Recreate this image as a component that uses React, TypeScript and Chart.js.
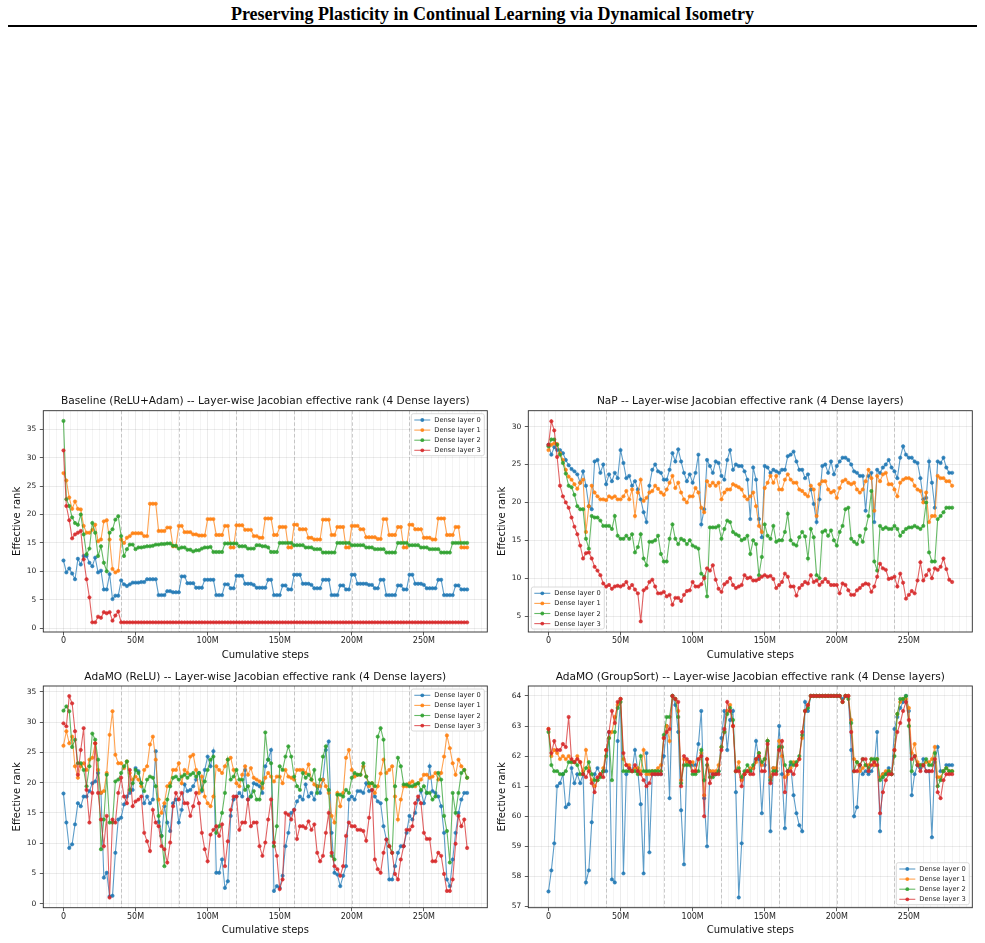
import React, { useEffect, useRef } from "react";
import { Chart, registerables } from "chart.js";

Chart.register(...registerables);

const FONT = '"DejaVu Sans", "Liberation Sans", sans-serif';

// Cumulative environment steps (millions) at which the Jacobian rank was logged.
const STEPS_M = [
  0, 2, 4, 6, 8, 10, 12, 14, 16, 18,
  20, 22, 24, 26, 28, 30, 32, 34, 36, 38,
  40, 42, 44, 46, 48, 50, 52, 54, 56, 58,
  60, 62, 64, 66, 68, 70, 72, 74, 76, 78,
  80, 82, 84, 86, 88, 90, 92, 94, 96, 98,
  100, 102, 104, 106, 108, 110, 112, 114, 116, 118,
  120, 122, 124, 126, 128, 130, 132, 134, 136, 138,
  140, 142, 144, 146, 148, 150, 152, 154, 156, 158,
  160, 162, 164, 166, 168, 170, 172, 174, 176, 178,
  180, 182, 184, 186, 188, 190, 192, 194, 196, 198,
  200, 202, 204, 206, 208, 210, 212, 214, 216, 218,
  220, 222, 224, 226, 228, 230, 232, 234, 236, 238,
  240, 242, 244, 246, 248, 250, 252, 254, 256, 258,
  260, 262, 264, 266, 268, 270, 272, 274, 276, 278,
  280,
];

const LAYER_LABELS = ["Dense layer 0", "Dense layer 1", "Dense layer 2", "Dense layer 3"];
const LAYER_COLORS = ["#1f77b4", "#ff7f0e", "#2ca02c", "#d62728"];
const TASK_SWITCHES_M = [40, 80, 120, 160, 200, 240];

// ---- Baseline (ReLU + Adam) ----
const BASE_L0 = [
  11.9, 9.8, 10.5, 9.6, 8.6, 12.2, 11.2, 12.7, 12.7, 11.5,
  10.9, 12.4, 9.8, 10.1, 6.8, 6.8, 9.5, 5.1, 5.7, 5.7,
  8.4, 7.7, 7.4, 7.7, 8.0, 8.0, 8.0, 8.1, 8.1, 8.6,
  8.6, 8.6, 8.6, 5.8, 5.8, 5.8, 6.5, 6.5, 6.3, 6.3,
  6.3, 9.1, 9.1, 7.9, 7.9, 7.9, 7.1, 7.1, 7.1, 8.5,
  8.5, 8.5, 8.5, 5.8, 5.8, 5.8, 7.7, 7.7, 7.0, 7.0,
  9.2, 9.2, 9.2, 7.8, 7.8, 7.8, 7.6, 7.1, 7.1, 7.1,
  7.1, 8.5, 8.5, 5.8, 5.8, 5.8, 7.5, 7.5, 6.8, 6.8,
  9.4, 9.4, 9.4, 7.8, 7.8, 7.8, 7.6, 7.0, 7.0, 7.0,
  8.5, 8.5, 8.5, 5.8, 5.8, 5.8, 7.5, 7.5, 6.8, 6.8,
  9.4, 9.4, 7.8, 7.8, 7.8, 7.8, 7.6, 7.6, 7.0, 7.0,
  8.5, 8.5, 5.8, 5.8, 5.8, 5.8, 7.5, 7.5, 6.8, 6.8,
  9.4, 9.4, 7.8, 7.8, 7.8, 7.6, 7.0, 7.0, 7.0, 7.0,
  8.5, 8.5, 5.8, 5.8, 5.8, 5.8, 7.5, 7.5, 6.8, 6.8,
  6.8,
];
const BASE_L1 = [
  27.3, 26.0, 23.0, 21.0, 22.3, 21.0, 20.9, 18.0, 16.8, 16.8,
  17.3, 18.2, 15.3, 15.6, 18.8, 19.0, 15.6, 10.4, 9.8, 10.1,
  15.6, 15.0, 15.9, 16.2, 16.7, 16.7, 16.7, 16.7, 16.2, 16.2,
  21.9, 21.9, 21.9, 17.1, 17.1, 17.1, 17.7, 17.7, 14.4, 14.4,
  18.0, 18.0, 16.9, 16.9, 16.9, 16.5, 16.5, 16.3, 16.3, 16.3,
  19.2, 19.2, 19.2, 16.4, 16.4, 16.4, 18.0, 18.0, 14.2, 14.2,
  18.1, 18.1, 18.1, 17.3, 17.3, 17.3, 16.2, 16.2, 15.9, 15.9,
  19.3, 19.3, 19.3, 16.4, 16.4, 17.8, 17.8, 17.8, 14.2, 14.2,
  18.2, 18.2, 17.4, 17.4, 17.4, 15.9, 15.9, 15.6, 15.6, 15.6,
  19.1, 19.1, 19.1, 16.4, 16.4, 17.8, 17.8, 17.8, 14.2, 14.2,
  18.0, 18.0, 18.0, 17.4, 17.4, 16.0, 16.0, 16.0, 16.0, 15.7,
  15.7, 19.2, 19.2, 16.4, 16.4, 16.4, 17.8, 17.8, 14.2, 14.2,
  18.2, 18.2, 17.4, 17.4, 17.4, 15.9, 15.9, 15.9, 15.6, 15.6,
  19.3, 19.3, 19.3, 16.4, 16.4, 16.4, 17.8, 17.8, 14.2, 14.2,
  14.2,
];
const BASE_L2 = [
  36.5, 22.7, 21.5, 19.5, 18.5, 18.2, 20.0, 16.5, 13.0, 14.0,
  18.5, 16.8, 12.7, 14.4, 11.5, 10.0, 16.8, 17.4, 19.1, 19.7,
  16.2, 12.7, 13.9, 14.7, 14.7, 13.9, 14.2, 14.2, 14.3, 14.4,
  14.4, 14.5, 14.7, 14.7, 14.8, 14.8, 14.9, 14.9, 14.5, 14.5,
  14.0, 14.2, 14.2, 13.8, 13.8, 13.5, 13.7, 13.7, 14.0, 14.2,
  14.2, 14.3, 13.4, 13.4, 13.4, 13.4, 14.9, 14.9, 14.9, 14.9,
  14.9, 14.4, 14.4, 14.4, 14.0, 14.0, 14.0, 14.6, 14.6, 14.4,
  14.4, 14.2, 13.4, 13.4, 13.4, 15.0, 15.0, 15.0, 15.0, 15.0,
  14.6, 14.6, 14.6, 14.6, 14.2, 14.2, 14.2, 13.9, 13.9, 13.9,
  13.3, 13.3, 13.3, 13.3, 13.3, 15.0, 15.0, 15.0, 15.0, 15.0,
  14.6, 14.6, 14.6, 14.6, 14.6, 14.2, 14.2, 14.2, 13.9, 13.9,
  13.9, 13.9, 13.3, 13.3, 13.3, 13.3, 15.0, 15.0, 15.0, 15.0,
  14.6, 14.6, 14.6, 14.6, 14.2, 14.2, 14.2, 13.9, 13.9, 13.9,
  13.9, 13.3, 13.3, 13.3, 13.3, 15.0, 15.0, 15.0, 15.0, 15.0,
  15.0,
];
const BASE_L3 = [
  31.3, 21.5, 19.0, 15.8, 16.5, 16.8, 17.1, 12.1, 8.6, 5.4,
  1.0, 1.0, 2.0, 1.8, 2.8, 2.6, 2.8, 1.3, 2.2, 2.9,
  1.0, 1.0, 1.0, 1.0, 1.0, 1.0, 1.0, 1.0, 1.0, 1.0,
  1.0, 1.0, 1.0, 1.0, 1.0, 1.0, 1.0, 1.0, 1.0, 1.0,
  1.0, 1.0, 1.0, 1.0, 1.0, 1.0, 1.0, 1.0, 1.0, 1.0,
  1.0, 1.0, 1.0, 1.0, 1.0, 1.0, 1.0, 1.0, 1.0, 1.0,
  1.0, 1.0, 1.0, 1.0, 1.0, 1.0, 1.0, 1.0, 1.0, 1.0,
  1.0, 1.0, 1.0, 1.0, 1.0, 1.0, 1.0, 1.0, 1.0, 1.0,
  1.0, 1.0, 1.0, 1.0, 1.0, 1.0, 1.0, 1.0, 1.0, 1.0,
  1.0, 1.0, 1.0, 1.0, 1.0, 1.0, 1.0, 1.0, 1.0, 1.0,
  1.0, 1.0, 1.0, 1.0, 1.0, 1.0, 1.0, 1.0, 1.0, 1.0,
  1.0, 1.0, 1.0, 1.0, 1.0, 1.0, 1.0, 1.0, 1.0, 1.0,
  1.0, 1.0, 1.0, 1.0, 1.0, 1.0, 1.0, 1.0, 1.0, 1.0,
  1.0, 1.0, 1.0, 1.0, 1.0, 1.0, 1.0, 1.0, 1.0, 1.0,
  1.0,
];

// ---- NaP ----
const NAP_L0 = [
  27.6, 26.3, 27.3, 26.9, 26.9, 26.5, 25.6, 24.9, 24.4, 24.1,
  23.7, 22.6, 24.1, 22.2, 19.5, 19.1, 25.4, 25.6, 23.9, 25.0,
  22.4, 23.7, 22.8, 23.9, 23.2, 26.9, 25.2, 23.2, 23.5, 22.2,
  22.8, 21.7, 20.4, 18.7, 17.4, 22.2, 24.3, 25.0, 24.1, 23.9,
  23.0, 23.0, 24.3, 26.5, 25.4, 27.0, 25.4, 23.9, 22.8, 23.7,
  22.6, 23.9, 26.3, 17.1, 19.1, 25.6, 24.8, 23.9, 25.4, 25.2,
  23.5, 23.0, 25.6, 26.9, 24.3, 25.0, 24.8, 24.8, 24.1, 23.0,
  17.8, 24.6, 23.0, 17.8, 15.4, 24.8, 24.6, 23.9, 24.3, 24.1,
  23.9, 24.3, 24.3, 26.1, 26.3, 26.7, 25.4, 24.3, 24.3, 23.2,
  23.7, 21.7, 19.8, 17.4, 20.4, 24.8, 25.0, 23.9, 25.4, 23.7,
  24.8, 25.4, 25.9, 25.9, 25.6, 25.0, 24.1, 23.9, 23.5, 23.5,
  18.9, 23.5, 23.9, 17.4, 24.3, 23.9, 24.6, 25.0, 25.6, 24.6,
  24.1, 23.2, 25.9, 27.4, 26.3, 25.9, 25.9, 25.4, 25.2, 23.2,
  20.4, 20.6, 25.4, 22.6, 19.3, 25.4, 25.2, 25.9, 24.6, 23.9,
  23.9,
];
const NAP_L1 = [
  26.9, 27.6, 27.8, 27.7, 26.5, 25.6, 24.3, 23.4, 23.0, 22.4,
  21.8, 22.6, 23.0, 16.1, 19.5, 22.2, 21.3, 20.8, 20.4, 20.4,
  20.3, 20.8, 20.6, 20.8, 20.4, 20.4, 20.8, 21.5, 20.4, 21.7,
  18.2, 21.3, 23.0, 20.2, 20.6, 21.3, 21.5, 22.2, 21.8, 21.3,
  21.0, 21.7, 22.6, 23.5, 21.9, 22.6, 21.3, 20.4, 20.0, 20.8,
  20.8, 21.9, 21.3, 19.3, 18.7, 22.8, 22.2, 22.6, 22.2, 22.6,
  20.4, 21.3, 21.7, 21.7, 22.4, 22.2, 22.0, 21.7, 20.8, 20.4,
  20.8, 21.3, 19.5, 16.9, 16.1, 21.9, 22.6, 23.5, 22.6, 23.5,
  21.7, 21.7, 23.0, 23.7, 23.0, 22.6, 22.6, 21.7, 21.5, 21.1,
  20.8, 22.2, 21.7, 18.2, 22.4, 22.8, 22.8, 21.7, 21.3, 21.5,
  20.6, 21.9, 22.8, 23.0, 22.6, 22.4, 22.6, 21.7, 21.3, 21.7,
  22.8, 24.3, 23.2, 18.9, 23.5, 22.8, 23.7, 23.9, 22.4, 22.4,
  21.7, 20.8, 22.6, 23.0, 23.2, 23.2, 23.0, 22.2, 21.7, 21.5,
  20.0, 21.3, 17.4, 18.2, 18.2, 23.5, 23.2, 23.2, 22.8, 22.8,
  22.2,
];
const NAP_L2 = [
  27.4, 28.3, 28.3, 27.6, 26.3, 25.2, 23.8, 22.2, 22.0, 21.0,
  19.5, 19.1, 19.1, 15.2, 13.9, 18.2, 18.0, 18.0, 17.6, 16.9,
  16.9, 16.9, 16.5, 18.2, 15.6, 15.2, 15.2, 15.6, 15.2, 15.8,
  13.4, 14.1, 15.8, 12.6, 11.7, 14.8, 14.8, 15.0, 15.6, 13.2,
  12.2, 12.2, 15.2, 17.1, 15.2, 14.5, 15.2, 15.0, 14.5, 15.0,
  14.3, 14.1, 13.9, 10.6, 10.2, 7.6, 16.7, 16.7, 16.7, 16.9,
  15.2, 16.5, 17.6, 17.4, 16.1, 15.8, 15.6, 15.0, 15.2, 15.6,
  13.2, 15.0, 14.5, 10.4, 12.8, 17.1, 15.6, 15.2, 16.9, 14.8,
  15.0, 15.0, 16.1, 18.5, 15.0, 14.5, 14.3, 15.4, 16.1, 15.5,
  12.6, 16.5, 15.4, 10.4, 10.0, 16.1, 16.3, 15.6, 16.3, 15.0,
  14.3, 16.1, 16.9, 19.1, 19.3, 15.2, 14.8, 14.5, 15.6, 14.8,
  16.5, 18.2, 21.5, 12.2, 11.0, 16.9, 16.5, 16.7, 16.5, 16.5,
  16.9, 16.5, 15.6, 16.1, 16.5, 16.7, 16.7, 16.9, 16.7, 16.5,
  16.9, 20.0, 13.4, 12.2, 12.2, 17.8, 18.2, 18.7, 19.3, 19.3,
  19.3,
];
const NAP_L3 = [
  27.6, 30.7, 29.5, 26.0, 22.2, 20.8, 20.0, 19.3, 18.0, 16.8,
  15.8, 14.3, 12.6, 13.3, 13.4, 12.6, 11.5, 11.0, 10.4, 9.3,
  8.9, 9.1, 8.6, 8.9, 9.0, 8.9, 9.1, 9.5, 8.7, 9.1,
  8.5, 8.0, 4.3, 8.4, 8.7, 9.5, 9.8, 8.9, 8.0, 8.0,
  8.2, 7.6, 7.8, 6.5, 7.4, 7.4, 7.0, 7.8, 8.3, 8.4,
  9.5, 8.9, 8.9, 9.2, 10.0, 11.3, 11.0, 11.7, 9.8, 8.6,
  8.2, 9.2, 9.5, 10.0, 9.1, 8.7, 8.9, 9.1, 10.4, 10.0,
  10.1, 9.7, 9.7, 9.9, 10.2, 10.4, 10.2, 10.3, 9.9, 8.7,
  9.1, 9.5, 10.6, 10.2, 8.9, 8.9, 7.7, 8.7, 9.1, 9.5,
  9.3, 10.4, 9.5, 9.7, 9.1, 9.5, 9.9, 9.5, 9.1, 9.1,
  9.1, 8.0, 9.3, 9.1, 8.4, 7.8, 7.8, 8.4, 8.7, 9.1,
  9.3, 9.2, 8.2, 8.9, 10.2, 11.9, 11.3, 11.1, 9.9, 10.0,
  10.2, 8.9, 10.6, 9.4, 7.3, 7.8, 8.3, 8.0, 9.7, 12.1,
  9.7, 10.4, 11.1, 10.0, 11.3, 11.1, 11.5, 12.6, 11.2, 9.8,
  9.5,
];

// ---- AdaMO (ReLU) ----
const RELU_L0 = [
  18.2, 13.4, 9.2, 9.8, 13.1, 16.6, 16.1, 17.7, 17.7, 18.6,
  19.9, 20.2, 21.6, 18.3, 4.3, 5.1, 1.2, 1.3, 8.4, 13.9,
  14.2, 16.4, 17.7, 18.3, 18.8, 22.4, 21.9, 19.9, 16.6, 17.7,
  16.6, 17.2, 25.2, 13.5, 11.2, 16.1, 13.4, 12.0, 16.6, 17.2,
  13.4, 15.5, 19.7, 18.6, 18.8, 19.4, 20.5, 21.6, 18.6, 22.1,
  24.3, 22.7, 25.2, 5.1, 5.1, 7.3, 2.6, 3.7, 14.5, 17.2,
  17.7, 18.3, 17.7, 22.1, 17.2, 17.7, 19.9, 19.7, 19.4, 18.3,
  22.7, 23.8, 25.4, 2.1, 2.9, 2.6, 4.6, 9.5, 11.7, 15.0,
  15.5, 16.9, 17.7, 17.2, 19.7, 17.7, 18.3, 17.2, 19.4, 18.3,
  20.5, 25.4, 26.8, 11.7, 5.1, 4.8, 2.9, 4.6, 6.2, 17.2,
  17.7, 17.2, 18.6, 18.6, 18.3, 19.9, 18.6, 18.8, 17.7, 16.9,
  16.6, 12.8, 10.6, 4.0, 4.0, 6.2, 8.4, 9.5, 9.5, 11.7,
  14.5, 13.9, 15.0, 17.2, 18.6, 16.6, 18.3, 22.7, 18.6, 18.3,
  17.7, 16.1, 11.7, 4.0, 2.9, 7.3, 11.7, 15.0, 17.2, 18.3,
  18.3,
];
const RELU_L1 = [
  26.1, 28.5, 26.5, 27.6, 22.7, 20.8, 22.7, 23.2, 22.1, 23.8,
  24.1, 26.5, 22.1, 18.3, 18.6, 21.6, 27.9, 31.8, 24.6, 23.2,
  23.2, 22.4, 23.5, 21.6, 20.5, 21.0, 20.5, 19.4, 22.1, 22.7,
  26.3, 27.6, 23.8, 17.2, 15.0, 16.6, 19.4, 19.9, 22.1, 22.1,
  23.2, 19.9, 22.1, 21.6, 24.3, 24.6, 22.1, 18.3, 21.0, 17.7,
  16.6, 16.1, 17.7, 22.7, 22.1, 21.6, 22.7, 23.8, 24.1, 22.1,
  19.9, 19.4, 21.3, 22.7, 21.3, 22.4, 20.8, 20.5, 20.2, 19.1,
  20.8, 21.6, 21.0, 20.2, 21.0, 21.0, 19.9, 22.1, 21.0, 20.8,
  20.5, 22.1, 22.1, 22.1, 21.6, 23.0, 20.5, 19.7, 19.4, 19.4,
  20.5, 19.4, 18.3, 14.5, 13.4, 18.3, 16.1, 18.3, 24.1, 25.4,
  22.1, 21.0, 21.3, 21.3, 22.7, 21.0, 19.4, 19.9, 18.3, 19.4,
  21.5, 23.8, 21.6, 22.1, 22.7, 17.7, 13.9, 17.2, 19.4, 19.4,
  19.9, 20.2, 19.4, 19.9, 20.5, 21.3, 21.3, 20.8, 21.0, 21.6,
  20.5, 21.6, 24.3, 27.8, 25.7, 23.2, 21.3, 23.8, 22.7, 22.1,
  20.8,
];
const RELU_L2 = [
  31.9, 32.6, 31.8, 25.9, 27.1, 23.2, 23.2, 22.1, 19.4, 22.7,
  28.1, 27.1, 23.8, 9.0, 13.9, 21.3, 13.4, 13.4, 20.2, 20.5,
  21.6, 22.7, 23.5, 18.8, 19.9, 22.1, 21.6, 19.9, 18.6, 20.5,
  21.0, 20.8, 19.4, 14.5, 11.2, 6.2, 17.2, 19.4, 20.8, 21.0,
  20.5, 21.0, 21.3, 20.8, 21.3, 21.6, 21.0, 21.6, 18.8, 20.2,
  22.1, 23.8, 24.3, 11.7, 12.8, 15.0, 18.3, 23.8, 20.5, 21.0,
  22.1, 20.5, 20.5, 18.8, 19.4, 17.7, 18.6, 17.2, 17.2, 19.9,
  28.3, 23.8, 23.2, 9.5, 12.8, 22.7, 22.1, 24.3, 26.0, 24.3,
  21.0, 19.4, 18.8, 21.6, 20.8, 21.3, 20.5, 22.1, 18.3, 20.5,
  24.3, 26.0, 18.8, 7.9, 7.3, 18.0, 18.0, 17.7, 18.8, 18.3,
  20.8, 21.6, 21.3, 21.3, 23.2, 21.0, 19.9, 19.9, 19.4, 27.6,
  29.0, 27.1, 17.2, 9.5, 8.4, 19.4, 24.1, 22.7, 19.7, 19.7,
  19.4, 19.4, 19.7, 19.9, 18.8, 19.4, 18.3, 18.3, 17.2, 17.7,
  21.6, 20.5, 14.5, 12.0, 6.8, 18.3, 15.0, 18.3, 21.6, 22.1,
  20.8,
];
const RELU_L3 = [
  29.8, 29.3, 34.3, 33.1, 28.5, 21.3, 25.4, 29.0, 18.8, 13.4,
  18.3, 26.5, 18.3, 13.9, 9.5, 14.5, 1.0, 13.9, 13.4, 18.3,
  20.8, 17.7, 16.6, 22.1, 16.1, 16.9, 17.2, 17.7, 11.7, 10.3,
  8.7, 15.5, 13.4, 12.8, 9.5, 9.0, 6.8, 10.1, 16.1, 18.3,
  17.2, 18.3, 16.6, 16.6, 14.5, 16.1, 18.3, 16.6, 11.7, 9.0,
  7.0, 11.4, 12.2, 12.8, 11.2, 13.1, 6.2, 10.3, 15.5, 17.7,
  17.7, 12.2, 13.4, 13.4, 17.2, 12.8, 13.4, 13.4, 9.5, 7.9,
  10.1, 13.9, 17.2, 10.1, 7.9, 2.4, 4.0, 15.0, 14.7, 13.9,
  15.5, 10.7, 12.8, 12.8, 12.5, 13.6, 12.2, 13.1, 8.4, 7.0,
  7.9, 11.7, 15.0, 8.4, 6.2, 5.7, 4.6, 6.2, 11.2, 13.4,
  12.8, 12.8, 12.2, 12.2, 12.0, 10.4, 14.2, 18.8, 7.3, 5.7,
  5.1, 8.4, 10.6, 9.5, 8.4, 4.9, 4.0, 7.3, 9.5, 12.2,
  12.2, 12.8, 16.6, 17.7, 16.6, 11.7, 10.7, 10.7, 7.0, 7.0,
  8.4, 7.9, 4.9, 2.1, 2.1, 4.0, 9.9, 14.5, 12.8, 13.9,
  9.2,
];

// ---- AdaMO (GroupSort) ----
const GS_L0 = [
  57.5, 58.2, 59.1, 61.0, 61.1, 61.4, 60.3, 60.4, 61.6, 61.1,
  61.4, 61.1, 61.4, 57.8, 58.2, 59.8, 61.4, 61.6, 61.4, 61.5,
  61.5, 62.8, 57.9, 57.8, 62.5, 63.9, 58.1, 61.4, 61.6, 61.5,
  62.2, 61.5, 60.4, 58.1, 62.1, 58.8, 61.4, 61.4, 61.4, 61.4,
  62.0, 63.0, 60.6, 64.0, 63.7, 62.8, 60.2, 58.4, 61.8, 61.8,
  61.7, 61.7, 62.4, 63.5, 60.6, 59.0, 61.5, 61.4, 61.4, 61.5,
  62.6, 63.5, 62.2, 63.2, 63.5, 60.8, 57.3, 59.1, 61.4, 61.5,
  61.5, 61.6, 62.5, 61.9, 60.1, 61.7, 62.5, 59.5, 61.6, 61.5,
  63.0, 61.4, 59.6, 61.5, 61.7, 60.7, 60.1, 59.7, 59.5, 63.8,
  63.5, 64.0, 64.0, 64.0, 64.0, 64.0, 64.0, 64.0, 64.0, 64.0,
  64.0, 64.0, 63.9, 64.0, 64.0, 62.2, 60.0, 60.3, 61.7, 61.4,
  61.5, 61.4, 61.5, 61.7, 62.8, 59.5, 61.4, 61.4, 61.6, 61.4,
  62.9, 63.3, 63.6, 63.8, 64.0, 63.5, 60.7, 61.4, 61.7, 61.6,
  61.9, 61.5, 61.5, 59.3, 61.8, 62.3, 61.5, 61.5, 61.7, 61.7,
  61.7,
];
const GS_L1 = [
  62.9, 62.0, 62.2, 62.1, 61.9, 62.0, 61.9, 62.0, 61.8, 61.8,
  62.0, 61.8, 61.5, 62.2, 61.6, 61.2, 61.0, 61.2, 61.4, 61.6,
  62.2, 62.6, 62.8, 63.3, 63.7, 63.9, 61.9, 61.7, 61.7, 61.5,
  61.6, 61.6, 61.5, 62.2, 61.4, 61.4, 61.5, 61.5, 61.6, 61.7,
  62.6, 63.0, 62.5, 64.0, 63.9, 63.5, 61.2, 61.9, 61.8, 61.8,
  61.8, 61.5, 61.9, 62.1, 60.7, 61.9, 61.5, 61.5, 61.5, 61.7,
  62.3, 62.8, 63.5, 63.7, 63.0, 61.5, 61.8, 61.2, 61.4, 61.5,
  61.6, 61.6, 61.8, 62.1, 61.7, 61.9, 62.5, 61.3, 61.6, 61.6,
  62.5, 62.0, 61.3, 61.4, 61.6, 61.8, 61.7, 61.9, 62.6, 63.5,
  63.7, 64.0, 64.0, 64.0, 64.0, 64.0, 64.0, 64.0, 64.0, 64.0,
  64.0, 64.0, 63.8, 64.0, 64.0, 63.2, 61.9, 61.8, 61.5, 61.6,
  61.7, 61.7, 61.9, 61.7, 61.9, 61.3, 61.4, 61.5, 61.5, 61.4,
  62.2, 63.4, 63.8, 63.9, 63.9, 63.6, 62.1, 62.4, 61.8, 61.7,
  61.7, 61.8, 61.8, 61.9, 62.3, 61.3, 61.3, 61.5, 61.6, 61.5,
  61.5,
];
const GS_L2 = [
  62.8, 61.7, 61.5, 61.5, 61.4, 61.4, 61.5, 61.8, 61.8, 61.8,
  61.7, 61.4, 61.4, 61.6, 61.8, 61.4, 61.2, 61.2, 61.3, 61.5,
  62.0, 62.6, 61.2, 62.8, 63.6, 63.8, 61.5, 61.5, 61.5, 61.5,
  61.5, 61.4, 62.0, 61.5, 61.5, 61.5, 61.5, 61.5, 61.5, 61.5,
  62.7, 63.3, 63.3, 64.0, 63.9, 63.3, 61.1, 61.7, 61.7, 61.7,
  61.4, 61.4, 61.5, 62.2, 61.2, 61.7, 61.3, 61.3, 61.4, 61.5,
  62.3, 62.8, 63.4, 63.6, 63.2, 61.5, 61.6, 61.3, 61.5, 61.7,
  61.5, 61.7, 61.9, 62.1, 61.8, 61.9, 62.5, 61.2, 61.5, 61.5,
  62.3, 62.3, 61.7, 61.5, 61.8, 61.7, 61.8, 62.0, 62.7, 63.5,
  63.6, 64.0, 64.0, 64.0, 64.0, 64.0, 64.0, 64.0, 64.0, 64.0,
  64.0, 64.0, 63.8, 64.0, 63.9, 63.1, 61.5, 61.8, 61.7, 61.9,
  61.7, 61.6, 61.9, 61.9, 61.9, 61.2, 61.3, 61.4, 61.5, 61.4,
  62.0, 63.4, 63.9, 63.9, 64.0, 63.0, 61.5, 62.0, 61.7, 61.7,
  61.7, 61.9, 61.7, 61.7, 62.1, 61.0, 61.2, 61.5, 61.6, 61.5,
  61.5,
];
const GS_L3 = [
  62.9, 62.1, 62.5, 62.2, 62.2, 62.4, 62.3, 63.3, 61.9, 61.8,
  61.9, 61.8, 61.4, 61.3, 61.5, 61.1, 60.8, 61.3, 61.4, 61.3,
  62.2, 62.8, 63.5, 63.1, 63.8, 63.9, 62.1, 61.7, 61.6, 61.5,
  61.7, 61.5, 61.4, 61.2, 61.0, 61.1, 61.4, 61.4, 61.4, 61.4,
  62.6, 62.8, 62.9, 64.0, 63.9, 63.8, 61.0, 62.0, 61.9, 61.8,
  61.5, 61.5, 61.9, 62.0, 60.0, 61.9, 61.1, 61.4, 61.4, 61.4,
  62.2, 62.9, 63.8, 63.5, 63.0, 61.5, 61.5, 61.0, 61.4, 61.5,
  61.4, 61.4, 61.9, 62.0, 61.5, 61.5, 62.4, 61.1, 61.4, 61.4,
  62.2, 62.5, 60.8, 61.5, 61.5, 61.4, 61.7, 61.9, 62.8, 63.5,
  63.7, 64.0, 64.0, 64.0, 64.0, 64.0, 64.0, 64.0, 64.0, 64.0,
  64.0, 64.0, 63.8, 64.0, 64.0, 62.8, 61.5, 61.5, 61.7, 61.9,
  61.9, 61.5, 61.7, 61.8, 61.7, 60.1, 60.8, 61.2, 61.4, 61.4,
  62.2, 62.8, 63.1, 63.5, 63.8, 63.2, 61.9, 62.0, 61.7, 61.5,
  61.7, 61.5, 61.5, 61.5, 61.9, 60.8, 60.6, 61.2, 61.4, 61.4,
  61.4,
];

type Corner = "upper right" | "lower left" | "lower right";

interface PanelSpec {
  id: string;
  title: string;
  series: number[][];
  yMin: number;
  yMax: number;
  yStep: number;
  legend: Corner;
  box: { left: number; top: number; width: number; height: number };
  inset: { left: number; top: number; right: number; bottom: number };
}

const PANELS: PanelSpec[] = [
  {
    id: "baseline",
    title: "Baseline (ReLU+Adam) -- Layer-wise Jacobian effective rank (4 Dense layers)",
    series: [BASE_L0, BASE_L1, BASE_L2, BASE_L3],
    yMin: -0.7, yMax: 38.3, yStep: 5,
    legend: "upper right",
    box: { left: 8, top: 388, width: 484, height: 280 },
    inset: { left: 35.3, top: 22.7, right: 4.7, bottom: 36 },
  },
  {
    id: "nap",
    title: "NaP -- Layer-wise Jacobian effective rank (4 Dense layers)",
    series: [NAP_L0, NAP_L1, NAP_L2, NAP_L3],
    yMin: 2.9, yMax: 32.1, yStep: 5,
    legend: "lower left",
    box: { left: 493, top: 388, width: 487, height: 280 },
    inset: { left: 35.3, top: 22.7, right: 7.7, bottom: 36 },
  },
  {
    id: "adamo-relu",
    title: "AdaMO (ReLU) -- Layer-wise Jacobian effective rank (4 Dense layers)",
    series: [RELU_L0, RELU_L1, RELU_L2, RELU_L3],
    yMin: -0.67, yMax: 35.97, yStep: 5,
    legend: "upper right",
    box: { left: 8, top: 663, width: 484, height: 280 },
    inset: { left: 35.3, top: 23, right: 4.7, bottom: 35.3 },
  },
  {
    id: "adamo-groupsort",
    title: "AdaMO (GroupSort) -- Layer-wise Jacobian effective rank (4 Dense layers)",
    series: [GS_L0, GS_L1, GS_L2, GS_L3],
    yMin: 56.96, yMax: 64.33, yStep: 1,
    legend: "lower right",
    box: { left: 493, top: 663, width: 487, height: 280 },
    inset: { left: 35.3, top: 23, right: 7.7, bottom: 35.3 },
  },
];

function rgba(hex: string, a: number): string {
  const n = parseInt(hex.slice(1), 16);
  return `rgba(${(n >> 16) & 255}, ${(n >> 8) & 255}, ${n & 255}, ${a})`;
}

const LINE_ALPHA = 0.72;
const MARKER_ALPHA = 0.88;

function roundedRect(ctx: CanvasRenderingContext2D, x: number, y: number, w: number, h: number, r: number) {
  ctx.beginPath();
  ctx.moveTo(x + r, y);
  ctx.lineTo(x + w - r, y);
  ctx.arcTo(x + w, y, x + w, y + r, r);
  ctx.lineTo(x + w, y + h - r);
  ctx.arcTo(x + w, y + h, x + w - r, y + h, r);
  ctx.lineTo(x + r, y + h);
  ctx.arcTo(x, y + h, x, y + h - r, r);
  ctx.lineTo(x, y + r);
  ctx.arcTo(x, y, x + r, y, r);
  ctx.closePath();
}

function drawLegend(ctx: CanvasRenderingContext2D, a: { left: number; right: number; top: number; bottom: number }, corner: Corner) {
  const w = 73;
  const h = 42;
  const gap = 3;
  const bx = corner === "lower left" ? a.left + gap : a.right - gap - w;
  const by = corner === "upper right" ? a.top + gap : a.bottom - gap - h;
  ctx.save();
  roundedRect(ctx, bx, by, w, h, 2);
  ctx.fillStyle = "rgba(255,255,255,0.85)";
  ctx.fill();
  ctx.strokeStyle = "#d0d0d0";
  ctx.lineWidth = 0.8;
  ctx.stroke();
  ctx.font = `6.7px ${FONT}`;
  ctx.textAlign = "left";
  ctx.textBaseline = "middle";
  LAYER_LABELS.forEach((label, i) => {
    const cy = by + 6.3 + i * 10.1;
    const color = LAYER_COLORS[i];
    ctx.strokeStyle = rgba(color, LINE_ALPHA);
    ctx.lineWidth = 1.1;
    ctx.beginPath();
    ctx.moveTo(bx + 3, cy);
    ctx.lineTo(bx + 19, cy);
    ctx.stroke();
    ctx.fillStyle = rgba(color, MARKER_ALPHA);
    ctx.beginPath();
    ctx.arc(bx + 11, cy, 1.9, 0, Math.PI * 2);
    ctx.fill();
    ctx.fillStyle = "#222";
    ctx.fillText(label, bx + 23, cy + 0.3);
  });
  ctx.restore();
}

function makeDecor(spec: PanelSpec) {
  return {
    id: `decor-${spec.id}`,
    beforeDatasetsDraw(chart: Chart) {
      const { ctx, chartArea: a, scales } = chart;
      const x = scales.x;
      ctx.save();
      ctx.beginPath();
      ctx.rect(a.left, a.top, a.right - a.left, a.bottom - a.top);
      ctx.clip();
      ctx.strokeStyle = "rgba(0,0,0,0.22)";
      ctx.lineWidth = 0.9;
      ctx.setLineDash([3.6, 2.2]);
      for (const b of TASK_SWITCHES_M) {
        const px = Math.round(x.getPixelForValue(b)) + 0.5;
        ctx.beginPath();
        ctx.moveTo(px, a.top);
        ctx.lineTo(px, a.bottom);
        ctx.stroke();
      }
      ctx.restore();
    },
    afterDraw(chart: Chart) {
      const { ctx, chartArea: a } = chart;
      ctx.save();
      ctx.setLineDash([]);
      ctx.strokeStyle = "#2b2b2b";
      ctx.lineWidth = 0.9;
      ctx.strokeRect(a.left, a.top, a.right - a.left, a.bottom - a.top);

      const cx = (a.left + a.right) / 2;
      ctx.fillStyle = "#111";
      ctx.textAlign = "center";
      ctx.textBaseline = "middle";
      ctx.font = `10.6px ${FONT}`;
      ctx.fillText(spec.title, cx, a.top - 9);
      ctx.font = `10px ${FONT}`;
      ctx.fillText("Cumulative steps", cx, a.bottom + 23);
      ctx.translate(a.left - 26, (a.top + a.bottom) / 2);
      ctx.rotate(-Math.PI / 2);
      ctx.fillText("Effective rank", 0, 0);
      ctx.restore();

      drawLegend(ctx, a, spec.legend);
    },
  };
}

function xTickLabel(v: number): string {
  const r = Math.round(v);
  if (Math.abs(v - r) > 1e-6 || r < 0 || r % 50 !== 0) return "";
  return r === 0 ? "0" : `${r}M`;
}

function isMajorX(v: number): boolean {
  return xTickLabel(v) !== "";
}

function Panel({ spec }: { spec: PanelSpec }) {
  const ref = useRef<HTMLCanvasElement | null>(null);

  useEffect(() => {
    if (!ref.current) return;
    const chart = new Chart(ref.current, {
      type: "line",
      data: {
        datasets: spec.series.map((vals, i) => ({
          label: LAYER_LABELS[i],
          data: vals.map((v, k) => ({ x: STEPS_M[k], y: v })),
          borderColor: rgba(LAYER_COLORS[i], LINE_ALPHA),
          backgroundColor: rgba(LAYER_COLORS[i], MARKER_ALPHA),
          borderWidth: 1.1,
          pointRadius: 1.7,
          pointBorderWidth: 0.6,
          pointBackgroundColor: rgba(LAYER_COLORS[i], MARKER_ALPHA),
          pointBorderColor: rgba(LAYER_COLORS[i], MARKER_ALPHA),
          tension: 0,
          fill: false,
          order: 3 - i,
        })),
      },
      options: {
        responsive: false,
        animation: false,
        events: [],
        devicePixelRatio: 1,
        layout: {
          padding: { left: 0, top: spec.inset.top, right: spec.inset.right, bottom: 0 },
        },
        plugins: {
          legend: { display: false },
          title: { display: false },
          tooltip: { enabled: false },
        },
        scales: {
          x: {
            type: "linear",
            min: -14,
            max: 294,
            afterFit: (s: any) => {
              s.height = spec.inset.bottom;
            },
            ticks: {
              stepSize: 5,
              includeBounds: false,
              autoSkip: false,
              maxRotation: 0,
              minRotation: 0,
              padding: 1,
              color: "#222",
              font: { family: FONT, size: 8 },
              callback: (v: any) => xTickLabel(Number(v)),
            },
            grid: {
              color: (c: any) => (isMajorX(c.tick?.value) ? "rgba(0,0,0,0.10)" : "rgba(0,0,0,0.055)"),
              lineWidth: 0.8,
              drawTicks: true,
              tickLength: 3.5,
              tickWidth: 0.8,
              tickColor: (c: any) => (isMajorX(c.tick?.value) ? "#333" : "rgba(0,0,0,0)"),
            },
            border: { display: false },
          },
          y: {
            type: "linear",
            min: spec.yMin,
            max: spec.yMax,
            afterFit: (s: any) => {
              s.width = spec.inset.left;
            },
            ticks: {
              stepSize: spec.yStep,
              includeBounds: false,
              padding: 3.5,
              color: "#222",
              font: { family: FONT, size: 7.5 },
            },
            grid: {
              color: "rgba(0,0,0,0.10)",
              lineWidth: 0.8,
              drawTicks: true,
              tickLength: 3.5,
              tickWidth: 0.8,
              tickColor: "#333",
            },
            border: { display: false },
          },
        },
      },
      plugins: [makeDecor(spec)],
    } as any);
    return () => chart.destroy();
  }, [spec]);

  const { left, top, width, height } = spec.box;
  return (
    <canvas
      ref={ref}
      width={width}
      height={height}
      style={{ position: "absolute", left, top, width, height }}
    />
  );
}

export default function App() {
  return (
    <div
      style={{
        position: "fixed",
        left: 0,
        top: 0,
        width: 985,
        height: 943,
        overflow: "hidden",
        background: "#fff",
      }}
    >
      <div
        style={{
          position: "absolute",
          left: 0,
          top: 3,
          width: 985,
          textAlign: "center",
          font: 'bold 18px "Liberation Serif", "Times New Roman", serif',
          lineHeight: "22px",
          color: "#000",
        }}
      >
        Preserving Plasticity in Continual Learning via Dynamical Isometry
      </div>
      <div
        style={{
          position: "absolute",
          left: 8,
          top: 24.5,
          width: 969,
          height: 2,
          background: "#000",
        }}
      />
      {PANELS.map((p) => (
        <Panel key={p.id} spec={p} />
      ))}
    </div>
  );
}
